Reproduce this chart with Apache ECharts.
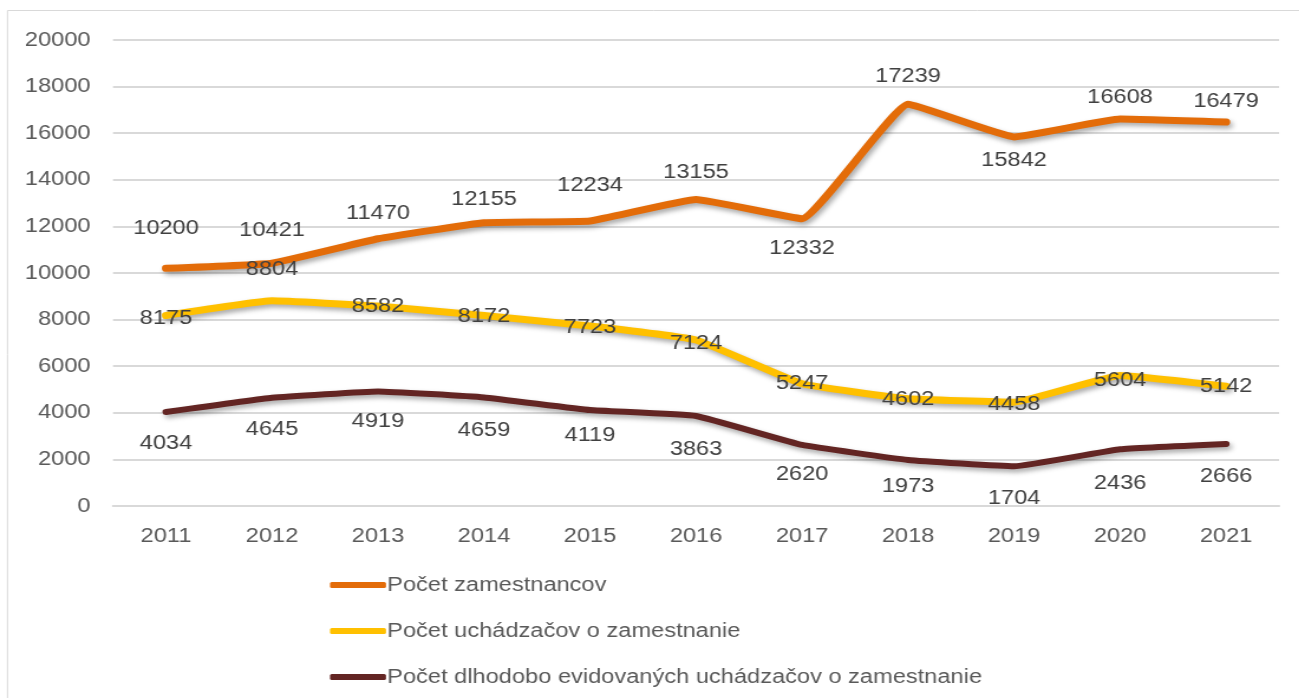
<!DOCTYPE html>
<html>
<head>
<meta charset="utf-8">
<script src="https://cdn.jsdelivr.net/npm/echarts@6/dist/echarts.min.js"></script>
<style>
  html, body { margin: 0; padding: 0; background: #fff; overflow: hidden; }
  /* the source picture is stretched sideways; draw narrower and widen it */
  #chart { width: 1100px; height: 698px; transform: scaleX(1.181); transform-origin: 0 0; }
</style>
</head>
<body>
<div id="chart"></div>
<script>
const years = ["2011", "2012", "2013", "2014", "2015", "2016", "2017", "2018", "2019", "2020", "2021"];
const employees = [10200, 10421, 11470, 12155, 12234, 13155, 12332, 17239, 15842, 16608, 16479];
const applicants = [8175, 8804, 8582, 8172, 7723, 7124, 5247, 4602, 4458, 5604, 5142];
const longTerm = [4034, 4645, 4919, 4659, 4119, 3863, 2620, 1973, 1704, 2436, 2666];
const seriesNames = ["Počet zamestnancov", "Počet uchádzačov o zamestnanie", "Počet dlhodobo evidovaných uchádzačov o zamestnanie"];

// vertical shift of each value label from its point (px)
const employeesShift = [-40, -33, -25, -23, -35, -27, 30, -28, 24, -22, -21];
const applicantsShift = [3, -31, 0, 1, 1, 3, 0, 1, 2, 5, 0];
const longTermShift = [31, 32, 30, 33, 25, 33, 30, 26, 32, 34, 33];

const sx = 1.181;
const font = "'Liberation Sans', Arial, sans-serif";

function points(values, shifts) {
    return values.map((v, i) => ({
        value: v,
        label: { offset: [0, shifts[i]] }
    }));
}

function lineSeries(name, values, shifts, color, width) {
    return {
        name: name,
        type: "line",
        smooth: 0.1,
        symbol: "circle",
        symbolSize: 1,
        data: points(values, shifts),
        itemStyle: { color: color },
        lineStyle: {
            color: color,
            width: width,
            cap: "round",
            join: "round",
            shadowColor: "rgba(0,0,0,0.35)",
            shadowBlur: 5,
            shadowOffsetX: 2,
            shadowOffsetY: 3
        },
        label: {
            show: true,
            position: "inside",
            fontFamily: font,
            fontSize: 20,
            color: "#404040"
        },
        emphasis: { disabled: true }
    };
}

const chart = echarts.init(document.getElementById("chart"));
chart.setOption({
    animation: false,
    graphic: [{
        type: "rect",
        shape: { x: 7.5 / sx, y: 10.5, width: 1200, height: 700 },
        style: { fill: "none", stroke: "#d9d9d9", lineWidth: 1 }
    }],
    grid: { left: 113 / sx, right: 20 / sx, top: 40, bottom: 192 },
    legend: {
        orient: "vertical",
        left: 330 / sx,
        top: 575,
        padding: 0,
        itemGap: 26,
        itemWidth: 56 / sx,
        itemHeight: 6,
        icon: "roundRect",
        textStyle: { fontFamily: font, fontSize: 20, color: "#595959", padding: [0, 0, 0, -4] },
        data: seriesNames
    },
    xAxis: {
        type: "category",
        data: years,
        boundaryGap: true,
        axisLine: { lineStyle: { color: "#d9d9d9", width: 2 } },
        axisTick: { show: false },
        axisLabel: { fontFamily: font, fontSize: 20, color: "#595959", margin: 20 }
    },
    yAxis: {
        type: "value",
        min: 0,
        max: 20000,
        interval: 2000,
        axisLine: { show: false },
        axisTick: { show: false },
        splitLine: { lineStyle: { color: "#d9d9d9", width: 2 } },
        axisLabel: { fontFamily: font, fontSize: 20, color: "#595959", margin: 19, formatter: v => String(v) }
    },
    series: [
        lineSeries(seriesNames[0], employees, employeesShift, "#E36C09", 7),
        lineSeries(seriesNames[1], applicants, applicantsShift, "#FFC000", 7),
        lineSeries(seriesNames[2], longTerm, longTermShift, "#632523", 6)
    ]
});
</script>
</body>
</html>
